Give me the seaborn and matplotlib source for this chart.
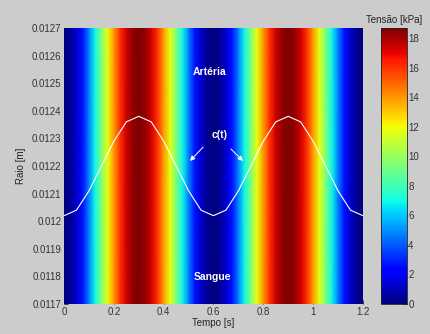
import numpy as np
import matplotlib
matplotlib.use("Agg")
import matplotlib.pyplot as plt
import seaborn as sns

# stress field (kPa) over time, read every 0.025 s
stress_time = [0.0, 0.025, 0.05, 0.075, 0.1, 0.125, 0.15, 0.175, 0.2, 0.225, 0.25,
               0.275, 0.3, 0.325, 0.35, 0.375, 0.4, 0.425, 0.45, 0.475, 0.5, 0.525,
               0.55, 0.575, 0.6, 0.625, 0.65, 0.675, 0.7, 0.725, 0.75, 0.775, 0.8,
               0.825, 0.85, 0.875, 0.9, 0.925, 0.95, 0.975, 1.0, 1.025, 1.05, 1.075,
               1.1, 1.125, 1.15, 1.175, 1.2]
stress_kpa = [0.0, 0.3, 1.25, 2.7, 4.7, 6.9, 9.35, 11.8, 14.0, 16.0, 17.45,
              18.4, 18.7, 18.4, 17.45, 16.0, 14.0, 11.8, 9.35, 6.9, 4.7, 2.7,
              1.25, 0.3, 0.0, 0.3, 1.25, 2.7, 4.7, 6.9, 9.35, 11.8, 14.0,
              16.0, 17.45, 18.4, 18.7, 18.4, 17.45, 16.0, 14.0, 11.8, 9.35, 6.9,
              4.7, 2.7, 1.25, 0.3, 0.0]

# interface radius c(t), polyline vertices every 0.05 s
c_time = [0.0, 0.05, 0.1, 0.15, 0.2, 0.25, 0.3, 0.35, 0.4, 0.45, 0.5, 0.55, 0.6,
          0.65, 0.7, 0.75, 0.8, 0.85, 0.9, 0.95, 1.0, 1.05, 1.1, 1.15, 1.2]
c_radius = [0.01202, 0.01204, 0.01211, 0.01220, 0.01229, 0.01236, 0.01238,
            0.01236, 0.01229, 0.01220, 0.01211, 0.01204, 0.01202, 0.01204,
            0.01211, 0.01220, 0.01229, 0.01236, 0.01238, 0.01236, 0.01229,
            0.01220, 0.01211, 0.01204, 0.01202]

radius_limits = [0.0117, 0.0127]
x_ticks = [0, 0.2, 0.4, 0.6, 0.8, 1.0, 1.2]
x_labels = ["0", "0.2", "0.4", "0.6", "0.8", "1", "1.2"]
y_ticks = [0.0117, 0.0118, 0.0119, 0.0120, 0.0121, 0.0122, 0.0123, 0.0124,
           0.0125, 0.0126, 0.0127]
y_labels = ["0.0117", "0.0118", "0.0119", "0.012", "0.0121", "0.0122", "0.0123",
            "0.0124", "0.0125", "0.0126", "0.0127"]
cbar_ticks = [0, 2, 4, 6, 8, 10, 12, 14, 16, 18]
stress_max = 18.7

bg = "#cccccc"
sns.set_theme(style="ticks", rc={"figure.facecolor": bg, "savefig.facecolor": bg})
plt.rcParams["font.family"] = ["Liberation Sans", "DejaVu Sans"]
plt.rcParams["font.size"] = 7

fig = plt.figure(figsize=(4.3, 3.34), dpi=100)
ax = fig.add_axes([0.149, 0.09, 0.695, 0.826])
cax = fig.add_axes([0.886, 0.09, 0.060, 0.826])

# field only varies with time -> two identical rows
X, Y = np.meshgrid(stress_time, radius_limits)
C = np.vstack([stress_kpa, stress_kpa])
mesh = ax.pcolormesh(X, Y, C, shading="gouraud", cmap="jet", vmin=0, vmax=stress_max)

sns.lineplot(x=c_time, y=c_radius, color="white", lw=0.8, ax=ax)

ax.set_xlim(0, 1.2)
ax.set_ylim(*radius_limits)
ax.set_xticks(x_ticks)
ax.set_xticklabels(x_labels)
ax.set_yticks(y_ticks)
ax.set_yticklabels(y_labels)
ax.tick_params(direction="in", length=3, width=0.6, colors="#222222", labelcolor="#333333",
               labelsize=7, pad=2)
for s in ax.spines.values():
    s.set_visible(False)
ax.set_xlabel("Tempo [s]", fontsize=7, color="#222222", labelpad=1)
ax.set_ylabel("Raio [m]", fontsize=7, color="#222222", labelpad=4)

# labels and arrows
ax.text(0.586, 0.012541, "Artéria", color="white", fontsize=7.5, fontweight="bold",
        ha="center", va="center")
ax.text(0.596, 0.011798, "Sangue", color="white", fontsize=7.5, fontweight="bold",
        ha="center", va="center")
ax.text(0.626, 0.012312, "c(t)", color="white", fontsize=7.5, fontweight="bold",
        ha="center", va="center")
arrow = dict(arrowstyle="-|>", color="white", lw=0.7, mutation_scale=7)
ax.annotate("", xy=(0.498, 0.012211), xytext=(0.566, 0.012276), arrowprops=arrow)
ax.annotate("", xy=(0.726, 0.012211), xytext=(0.662, 0.012269), arrowprops=arrow)

cbar = fig.colorbar(mesh, cax=cax, ticks=cbar_ticks)
cbar.outline.set_linewidth(0.6)
cbar.outline.set_edgecolor("#222222")
cax.tick_params(direction="in", length=3, width=0.6, colors="#222222", labelcolor="#333333",
                labelsize=7, pad=1)
cax.set_title("Tensão [kPa]", fontsize=7, color="#222222", pad=4)

fig.savefig("out.png", dpi=100)
